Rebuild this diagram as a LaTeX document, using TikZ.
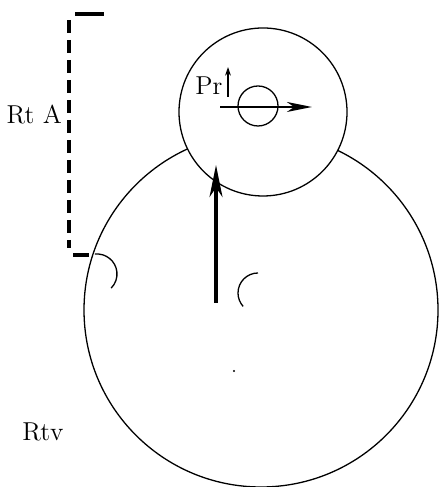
\documentclass[tikz,border=0pt]{standalone}
\usetikzlibrary{arrows.meta}
\begin{document}
\begin{tikzpicture}[x=0.425pt, y=0.425pt, line width=0.55pt,
  font=\fontsize{11}{13}\selectfont,
  bigtip/.style={-{Stealth[length=13.6pt,width=5.5pt,inset=4pt]}, line width=1.3pt},
  midtip/.style={-{Stealth[length=10.6pt,width=4.2pt,inset=3pt]}, line width=1.1pt},
  smalltip/.style={-{Stealth[length=3.6pt,width=2.4pt,inset=1pt]}, line width=0.7pt},
  bar/.style={line width=1.4pt}]
\useasboundingbox (0,0) rectangle (442,487);
\coordinate (big) at (261,177);
\coordinate (sm) at (263,375);
\coordinate (hub) at (258,381);
\draw (big) circle[radius=177];
\draw[fill=white] (sm) circle[radius=84];
\draw (hub) circle[radius=20];
\fill (234,116) circle[radius=1.2];
\coordinate (a1) at (97,213); \coordinate (a2) at (258,194);
\draw ([shift={(96:20)}]a1) arc[start angle=96,end angle=-45,radius=20];
\draw ([shift={(90:20)}]a2) arc[start angle=90,end angle=222,radius=20];
\coordinate (h0) at (220,380); \coordinate (h1) at (312,380);
\draw[midtip] (h0)--(h1);
\coordinate (v0) at (216,184); \coordinate (v1) at (216,322);
\draw[bigtip] (v0)--(v1);
\node (pr) at (209,401) {Pr};
\coordinate (p0) at (228,390); \coordinate (p1) at (228,420);
\draw[smalltip] (p0)--(p1);
\coordinate (t0) at (75,473); \coordinate (t1) at (104,473);
\coordinate (d0) at (69,467); \coordinate (d1) at (69,239);
\coordinate (b0) at (73,232); \coordinate (b1) at (89,232);
\draw[bar] (t0)--(t1);
\draw[line width=1.7pt, dash pattern=on 5.5pt off 3pt] (d0)--(d1);
\draw[bar] (b0)--(b1);
\node[anchor=east,inner sep=1pt] (rta) at (65,372) {Rt A};
\node (rtv) at (43,55) {Rtv};
\end{tikzpicture}
\end{document}
